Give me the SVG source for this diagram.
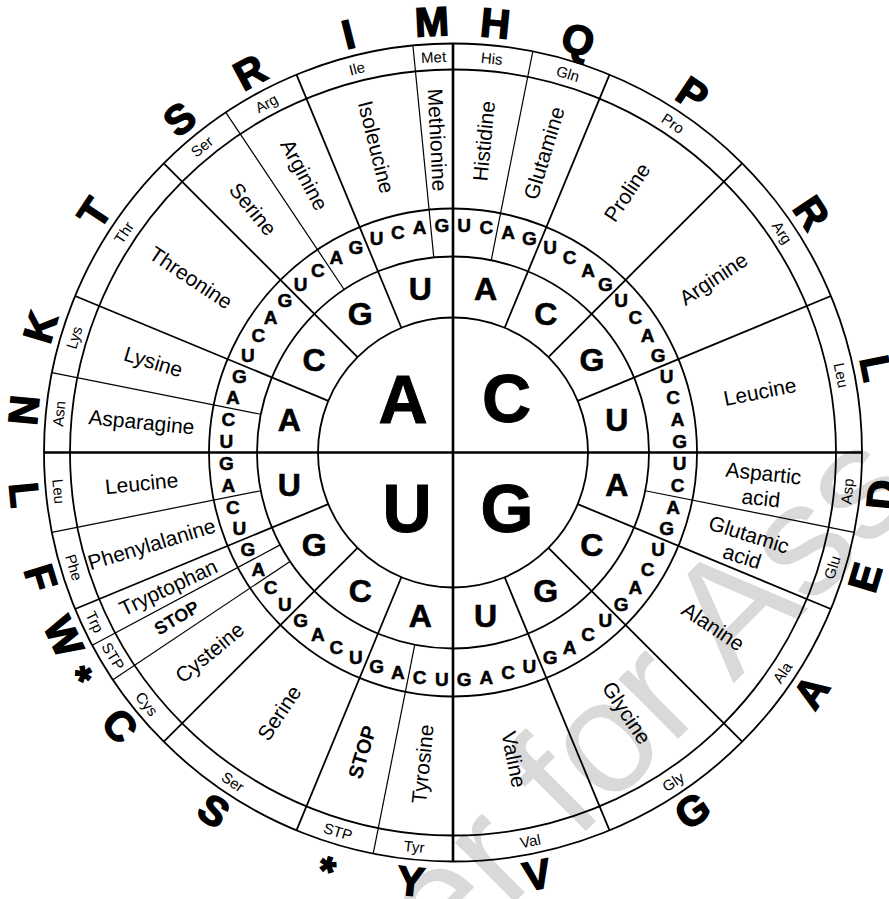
<svg xmlns="http://www.w3.org/2000/svg" width="889" height="899" viewBox="0 0 889 899">
<style>
text{font-family:"Liberation Sans",Arial,Helvetica,sans-serif;text-anchor:middle;dominant-baseline:central;fill:#000}
.c{fill:none;stroke:#000;stroke-width:1.8}
.ax{stroke:#000;stroke-width:2.6}
.l2{stroke:#000;stroke-width:1.8}
.l3{stroke:#000;stroke-width:1.2}
.nm{font-size:21px}
.st{font-size:20px;font-weight:bold}
.ab{font-size:15px}
.big{font-size:41px;font-weight:bold;stroke:#000;stroke-width:1.5}
.s1{font-size:68px;font-weight:bold;stroke:#000;stroke-width:1;dominant-baseline:auto}
.s2{font-size:32px;font-weight:bold;stroke:#000;stroke-width:0.6}
.cd{font-size:19px;font-weight:bold;stroke:#000;stroke-width:0.5}
.wm{font-size:160px;fill:#d9d9d9;dominant-baseline:auto}
</style>
<rect width="889" height="899" fill="#fff"/>
<text class="wm" transform="translate(683 734) rotate(-45)">er for Ass</text>
<g transform="translate(453 452.5)">
<g id="rings">
<circle class="c" r="135"/><circle class="c" r="196"/><circle class="c" r="244"/><circle class="c" r="383"/><circle class="c" r="409"/>
</g>
<g id="connectors">
<line class="ax" x1="-409" x2="409"/><line class="ax" y1="-409" y2="409"/>
<g class="l2">
<line y1="-135" y2="-409" transform="rotate(22.5)"/><line y1="-135" y2="-409" transform="rotate(45)"/><line y1="-135" y2="-409" transform="rotate(67.5)"/>
<line y1="-135" y2="-409" transform="rotate(112.5)"/><line y1="-135" y2="-409" transform="rotate(135)"/><line y1="-135" y2="-409" transform="rotate(157.5)"/>
<line y1="-135" y2="-409" transform="rotate(202.5)"/><line y1="-135" y2="-409" transform="rotate(225)"/><line y1="-135" y2="-409" transform="rotate(247.5)"/>
<line y1="-135" y2="-409" transform="rotate(292.5)"/><line y1="-135" y2="-409" transform="rotate(315)"/><line y1="-135" y2="-409" transform="rotate(337.5)"/>
</g>
<g class="l3">
<line y1="-196" y2="-409" transform="rotate(11.25)"/><line y1="-196" y2="-409" transform="rotate(101.25)"/><line y1="-196" y2="-409" transform="rotate(191.25)"/>
<line y1="-196" y2="-409" transform="rotate(236.25)"/><line y1="-196" y2="-409" transform="rotate(241.875)"/><line y1="-196" y2="-409" transform="rotate(258.75)"/>
<line y1="-196" y2="-409" transform="rotate(281.25)"/><line y1="-196" y2="-409" transform="rotate(326.25)"/><line y1="-196" y2="-409" transform="rotate(354.375)"/>
</g>
</g>
<g id="first-letters">
<text class="s1" x="-50" y="-29.5">A</text><text class="s1" x="53.5" y="-30.5">C</text>
<text class="s1" x="-46" y="79.5">U</text><text class="s1" x="54" y="79">G</text>
</g>
<g id="second-letters" class="s2">
<text class="s2" transform="rotate(11.25) translate(0 -167) rotate(-11.25)">A</text>
<text class="s2" transform="rotate(33.75) translate(0 -167) rotate(-33.75)">C</text>
<text class="s2" transform="rotate(56.25) translate(0 -167) rotate(-56.25)">G</text>
<text class="s2" transform="rotate(78.75) translate(0 -167) rotate(-78.75)">U</text>
<text class="s2" transform="rotate(101.25) translate(0 -167) rotate(-101.25)">A</text>
<text class="s2" transform="rotate(123.75) translate(0 -167) rotate(-123.75)">C</text>
<text class="s2" transform="rotate(146.25) translate(0 -167) rotate(-146.25)">G</text>
<text class="s2" transform="rotate(168.75) translate(0 -167) rotate(-168.75)">U</text>
<text class="s2" transform="rotate(191.25) translate(0 -167) rotate(-191.25)">A</text>
<text class="s2" transform="rotate(213.75) translate(0 -167) rotate(-213.75)">C</text>
<text class="s2" transform="rotate(236.25) translate(0 -167) rotate(-236.25)">G</text>
<text class="s2" transform="rotate(258.75) translate(0 -167) rotate(-258.75)">U</text>
<text class="s2" transform="rotate(281.25) translate(0 -167) rotate(-281.25)">A</text>
<text class="s2" transform="rotate(303.75) translate(0 -167) rotate(-303.75)">C</text>
<text class="s2" transform="rotate(326.25) translate(0 -167) rotate(-326.25)">G</text>
<text class="s2" transform="rotate(348.75) translate(0 -167) rotate(-348.75)">U</text>
</g>
<g id="third-letters">
<text class="cd" transform="rotate(2.8125) translate(0 -227) rotate(-2.8125)">U</text><text class="cd" transform="rotate(8.4375) translate(0 -227) rotate(-8.4375)">C</text><text class="cd" transform="rotate(14.0625) translate(0 -227) rotate(-14.0625)">A</text><text class="cd" transform="rotate(19.6875) translate(0 -227) rotate(-19.6875)">G</text>
<text class="cd" transform="rotate(25.3125) translate(0 -227) rotate(-25.3125)">U</text><text class="cd" transform="rotate(30.9375) translate(0 -227) rotate(-30.9375)">C</text><text class="cd" transform="rotate(36.5625) translate(0 -227) rotate(-36.5625)">A</text><text class="cd" transform="rotate(42.1875) translate(0 -227) rotate(-42.1875)">G</text>
<text class="cd" transform="rotate(47.8125) translate(0 -227) rotate(-47.8125)">U</text><text class="cd" transform="rotate(53.4375) translate(0 -227) rotate(-53.4375)">C</text><text class="cd" transform="rotate(59.0625) translate(0 -227) rotate(-59.0625)">A</text><text class="cd" transform="rotate(64.6875) translate(0 -227) rotate(-64.6875)">G</text>
<text class="cd" transform="rotate(70.3125) translate(0 -227) rotate(-70.3125)">U</text><text class="cd" transform="rotate(75.9375) translate(0 -227) rotate(-75.9375)">C</text><text class="cd" transform="rotate(81.5625) translate(0 -227) rotate(-81.5625)">A</text><text class="cd" transform="rotate(87.1875) translate(0 -227) rotate(-87.1875)">G</text>
<text class="cd" transform="rotate(92.8125) translate(0 -227) rotate(-92.8125)">U</text><text class="cd" transform="rotate(98.4375) translate(0 -227) rotate(-98.4375)">C</text><text class="cd" transform="rotate(104.0625) translate(0 -227) rotate(-104.0625)">A</text><text class="cd" transform="rotate(109.6875) translate(0 -227) rotate(-109.6875)">G</text>
<text class="cd" transform="rotate(115.3125) translate(0 -227) rotate(-115.3125)">U</text><text class="cd" transform="rotate(120.9375) translate(0 -227) rotate(-120.9375)">C</text><text class="cd" transform="rotate(126.5625) translate(0 -227) rotate(-126.5625)">A</text><text class="cd" transform="rotate(132.1875) translate(0 -227) rotate(-132.1875)">G</text>
<text class="cd" transform="rotate(137.8125) translate(0 -227) rotate(-137.8125)">U</text><text class="cd" transform="rotate(143.4375) translate(0 -227) rotate(-143.4375)">C</text><text class="cd" transform="rotate(149.0625) translate(0 -227) rotate(-149.0625)">A</text><text class="cd" transform="rotate(154.6875) translate(0 -227) rotate(-154.6875)">G</text>
<text class="cd" transform="rotate(160.3125) translate(0 -227) rotate(-160.3125)">U</text><text class="cd" transform="rotate(165.9375) translate(0 -227) rotate(-165.9375)">C</text><text class="cd" transform="rotate(171.5625) translate(0 -227) rotate(-171.5625)">A</text><text class="cd" transform="rotate(177.1875) translate(0 -227) rotate(-177.1875)">G</text>
<text class="cd" transform="rotate(182.8125) translate(0 -227) rotate(-182.8125)">U</text><text class="cd" transform="rotate(188.4375) translate(0 -227) rotate(-188.4375)">C</text><text class="cd" transform="rotate(194.0625) translate(0 -227) rotate(-194.0625)">A</text><text class="cd" transform="rotate(199.6875) translate(0 -227) rotate(-199.6875)">G</text>
<text class="cd" transform="rotate(205.3125) translate(0 -227) rotate(-205.3125)">U</text><text class="cd" transform="rotate(210.9375) translate(0 -227) rotate(-210.9375)">C</text><text class="cd" transform="rotate(216.5625) translate(0 -227) rotate(-216.5625)">A</text><text class="cd" transform="rotate(222.1875) translate(0 -227) rotate(-222.1875)">G</text>
<text class="cd" transform="rotate(227.8125) translate(0 -227) rotate(-227.8125)">U</text><text class="cd" transform="rotate(233.4375) translate(0 -227) rotate(-233.4375)">C</text><text class="cd" transform="rotate(239.0625) translate(0 -227) rotate(-239.0625)">A</text><text class="cd" transform="rotate(244.6875) translate(0 -227) rotate(-244.6875)">G</text>
<text class="cd" transform="rotate(250.3125) translate(0 -227) rotate(-250.3125)">U</text><text class="cd" transform="rotate(255.9375) translate(0 -227) rotate(-255.9375)">C</text><text class="cd" transform="rotate(261.5625) translate(0 -227) rotate(-261.5625)">A</text><text class="cd" transform="rotate(267.1875) translate(0 -227) rotate(-267.1875)">G</text>
<text class="cd" transform="rotate(272.8125) translate(0 -227) rotate(-272.8125)">U</text><text class="cd" transform="rotate(278.4375) translate(0 -227) rotate(-278.4375)">C</text><text class="cd" transform="rotate(284.0625) translate(0 -227) rotate(-284.0625)">A</text><text class="cd" transform="rotate(289.6875) translate(0 -227) rotate(-289.6875)">G</text>
<text class="cd" transform="rotate(295.3125) translate(0 -227) rotate(-295.3125)">U</text><text class="cd" transform="rotate(300.9375) translate(0 -227) rotate(-300.9375)">C</text><text class="cd" transform="rotate(306.5625) translate(0 -227) rotate(-306.5625)">A</text><text class="cd" transform="rotate(312.1875) translate(0 -227) rotate(-312.1875)">G</text>
<text class="cd" transform="rotate(317.8125) translate(0 -227) rotate(-317.8125)">U</text><text class="cd" transform="rotate(323.4375) translate(0 -227) rotate(-323.4375)">C</text><text class="cd" transform="rotate(329.0625) translate(0 -227) rotate(-329.0625)">A</text><text class="cd" transform="rotate(334.6875) translate(0 -227) rotate(-334.6875)">G</text>
<text class="cd" transform="rotate(340.3125) translate(0 -227) rotate(-340.3125)">U</text><text class="cd" transform="rotate(345.9375) translate(0 -227) rotate(-345.9375)">C</text><text class="cd" transform="rotate(351.5625) translate(0 -227) rotate(-351.5625)">A</text><text class="cd" transform="rotate(357.1875) translate(0 -227) rotate(-357.1875)">G</text>
</g>
<g id="amino-names">
<text class="nm" transform="rotate(5.625) translate(0 -313) rotate(-90)">Histidine</text>
<text class="nm" transform="rotate(16.875) translate(0 -313) rotate(-90)">Glutamine</text>
<text class="nm" transform="rotate(33.75) translate(0 -313) rotate(-90)">Proline</text>
<text class="nm" transform="rotate(56.25) translate(0 -313) rotate(-90)">Arginine</text>
<text class="nm" transform="rotate(78.75) translate(0 -313) rotate(-90)">Leucine</text>
<text class="nm" transform="rotate(96) translate(0 -311) rotate(-90)"><tspan x="0" y="-12.5">Aspartic</tspan><tspan x="0" y="12.5">acid</tspan></text>
<text class="nm" transform="rotate(107.5) translate(0 -307) rotate(-90)"><tspan x="0" y="-11.5">Glutamic</tspan><tspan x="0" y="11.5">acid</tspan></text>
<text class="nm" transform="rotate(123.75) translate(0 -313) rotate(-90)">Alanine</text>
<text class="nm" transform="rotate(146.25) translate(0 -313) rotate(-90)">Glycine</text>
<text class="nm" transform="rotate(168.75) translate(0 -313) rotate(-90)">Valine</text>
<text class="nm" transform="rotate(185.625) translate(0 -313) rotate(90)">Tyrosine</text>
<text class="st" transform="rotate(196.875) translate(0 -313) rotate(90)">STOP</text>
<text class="nm" transform="rotate(213.75) translate(0 -313) rotate(90)">Serine</text>
<text class="nm" transform="rotate(230.625) translate(0 -315) rotate(90)">Cysteine</text>
<text class="st" style="font-size:18px" transform="rotate(239.0625) translate(0 -322) rotate(90)">STOP</text>
<text class="nm" transform="rotate(244.6875) translate(0 -315) rotate(90)">Tryptophan</text>
<text class="nm" transform="rotate(253.125) translate(0 -315) rotate(90)">Phenylalanine</text>
<text class="nm" transform="rotate(264.375) translate(0 -313) rotate(90)">Leucine</text>
<text class="nm" transform="rotate(275.625) translate(0 -313) rotate(90)">Asparagine</text>
<text class="nm" transform="rotate(286.875) translate(0 -313) rotate(90)">Lysine</text>
<text class="nm" transform="rotate(303.75) translate(0 -315) rotate(90)">Threonine</text>
<text class="nm" transform="rotate(320.625) translate(0 -315) rotate(90)">Serine</text>
<text class="nm" transform="rotate(331.875) translate(0 -315) rotate(90)">Arginine</text>
<text class="nm" transform="rotate(345.9375) translate(0 -315) rotate(90)">Isoleucine</text>
<text class="nm" transform="rotate(357.1875) translate(0 -313) rotate(90)">Methionine</text>
</g>
<g id="amino-abbrev">
<text class="ab" transform="rotate(5.625) translate(0 -396)">His</text>
<text class="ab" transform="rotate(16.875) translate(0 -396)">Gln</text>
<text class="ab" transform="rotate(33.75) translate(0 -396)">Pro</text>
<text class="ab" transform="rotate(56.25) translate(0 -396)">Arg</text>
<text class="ab" transform="rotate(78.75) translate(0 -396)">Leu</text>
<text class="ab" transform="rotate(95.625) translate(0 -396) rotate(180)">Asp</text>
<text class="ab" transform="rotate(106.875) translate(0 -396) rotate(180)">Glu</text>
<text class="ab" transform="rotate(123.75) translate(0 -396) rotate(180)">Ala</text>
<text class="ab" transform="rotate(146.25) translate(0 -396) rotate(180)">Gly</text>
<text class="ab" transform="rotate(168.75) translate(0 -396) rotate(180)">Val</text>
<text class="ab" transform="rotate(185.625) translate(0 -396) rotate(180)">Tyr</text>
<text class="ab" transform="rotate(196.875) translate(0 -396) rotate(180)">STP</text>
<text class="ab" transform="rotate(213.75) translate(0 -396) rotate(180)">Ser</text>
<text class="ab" transform="rotate(230.625) translate(0 -396) rotate(180)">Cys</text>
<text class="ab" transform="rotate(239.0625) translate(0 -396) rotate(180)">STP</text>
<text class="ab" transform="rotate(244.6875) translate(0 -396) rotate(180)">Trp</text>
<text class="ab" transform="rotate(253.125) translate(0 -396) rotate(180)">Phe</text>
<text class="ab" transform="rotate(264.375) translate(0 -396) rotate(180)">Leu</text>
<text class="ab" transform="rotate(275.625) translate(0 -396)">Asn</text>
<text class="ab" transform="rotate(286.875) translate(0 -396)">Lys</text>
<text class="ab" transform="rotate(303.75) translate(0 -396)">Thr</text>
<text class="ab" transform="rotate(320.625) translate(0 -396)">Ser</text>
<text class="ab" transform="rotate(331.875) translate(0 -396)">Arg</text>
<text class="ab" transform="rotate(345.9375) translate(0 -396)">Ile</text>
<text class="ab" transform="rotate(357.1875) translate(0 -396)">Met</text>
</g>
<g id="one-letter">
<text class="big" transform="rotate(5.625) translate(0 -431)">H</text>
<text class="big" transform="rotate(16.875) translate(0 -431)">Q</text>
<text class="big" transform="rotate(33.75) translate(0 -431)">P</text>
<text class="big" transform="rotate(56.25) translate(0 -431)">R</text>
<text class="big" transform="rotate(78.75) translate(0 -431)">L</text>
<text class="big" transform="rotate(95.625) translate(0 -431) rotate(180)">D</text>
<text class="big" transform="rotate(106.875) translate(0 -431) rotate(180)">E</text>
<text class="big" transform="rotate(123.75) translate(0 -431) rotate(180)">A</text>
<text class="big" transform="rotate(146.25) translate(0 -431) rotate(180)">G</text>
<text class="big" transform="rotate(168.75) translate(0 -431) rotate(180)">V</text>
<text class="big" transform="rotate(185.625) translate(0 -431) rotate(180)">Y</text>
<text class="big" transform="rotate(196.875) translate(0 -431) rotate(180)" dy="0.15em">*</text>
<text class="big" transform="rotate(213.75) translate(0 -431) rotate(180)">S</text>
<text class="big" transform="rotate(230.625) translate(0 -431) rotate(180)">C</text>
<text class="big" transform="rotate(239.0625) translate(0 -431) rotate(180)" dy="0.15em">*</text>
<text class="big" transform="rotate(244.6875) translate(0 -431) rotate(180)">W</text>
<text class="big" transform="rotate(253.125) translate(0 -431) rotate(180)">F</text>
<text class="big" transform="rotate(264.375) translate(0 -431) rotate(180)">L</text>
<text class="big" transform="rotate(275.625) translate(0 -431)">N</text>
<text class="big" transform="rotate(286.875) translate(0 -431)">K</text>
<text class="big" transform="rotate(303.75) translate(0 -431)">T</text>
<text class="big" transform="rotate(320.625) translate(0 -431)">S</text>
<text class="big" transform="rotate(331.875) translate(0 -431)">R</text>
<text class="big" transform="rotate(345.9375) translate(0 -431)">I</text>
<text class="big" transform="rotate(357.1875) translate(0 -431)">M</text>
</g>
</g>
</svg>
